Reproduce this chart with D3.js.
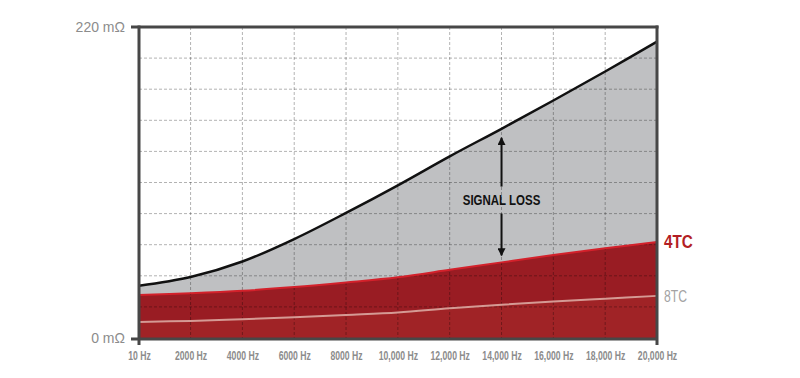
<!DOCTYPE html>
<html>
<script src="https://d3js.org/d3.v7.min.js"></script>
<style>
    body {
        margin: 0;
        background: #fff;
    }

    .xlab text {
        font-family: "Liberation Sans", Arial, sans-serif;
        font-weight: bold;
        font-size: 13.5px;
        fill: #8c8c8c;
    }

    .ylab text {
        font-family: "Liberation Sans", Arial, sans-serif;
        font-size: 14px;
        fill: #8c8c8c;
    }
</style>

<body>
</body>
<script>
    const width = 800,
        height = 378;
    const freqs = [10, 2000, 4000, 6000, 8000, 10000, 12000, 14000, 16000, 18000, 20000];
    const freqLabels = ["10 Hz", "2000 Hz", "4000 Hz", "6000 Hz", "8000 Hz", "10,000 Hz", "12,000 Hz", "14,000 Hz",
        "16,000 Hz", "18,000 Hz", "20,000 Hz"
    ];
    // impedance in milliohms
    const standard = [36.9, 43.1, 54.1, 70, 88.5, 108, 128.5, 148, 168, 188.5, 209.6];
    const fourTC = [30.5, 31.7, 33.4, 36, 39.3, 43, 48.2, 53.5, 58.7, 63.5, 67.9];
    const eightTC = [11.4, 12.1, 13.3, 14.7, 16.3, 18, 21, 23.6, 25.8, 27.8, 29.8];
    const yTicks = [0, 220];
    const yLabels = ["0 mΩ", "220 mΩ"];
    const gridY = [22, 44, 66, 88, 110, 132, 154, 176, 198];
    const arrowAt = 14000;

    const rows = freqs.map((f, i) => ({
        f: f,
        std: standard[i],
        c4: fourTC[i],
        c8: eightTC[i]
    }));

    const svg = d3.select("body").append("svg").attr("width", width).attr("height", height);

    const x = d3.scaleLinear().domain([10, 20000]).range([139, 657]);
    const y = d3.scaleLinear().domain([0, 220]).range([338, 27]);

    const area = key => d3.area()
        .curve(d3.curveCatmullRom)
        .x(d => x(d.f))
        .y0(y(0))
        .y1(d => y(d[key]));
    const line = key => d3.line()
        .curve(d3.curveCatmullRom)
        .x(d => x(d.f))
        .y(d => y(d[key]));

    svg.append("path").attr("d", area("std")(rows)).attr("fill", "#bfc0c2");
    svg.append("path").attr("d", area("c4")(rows)).attr("fill", "#991c23");
    svg.append("path").attr("d", area("c8")(rows)).attr("fill", "#a02326");

    // grid
    svg.append("g")
        .selectAll("line")
        .data(freqs.slice(1, -1))
        .join("line")
        .attr("x1", d => x(d)).attr("x2", d => x(d))
        .attr("y1", y(220)).attr("y2", y(0))
        .attr("stroke", "rgba(0,0,0,0.3)")
        .attr("stroke-dasharray", "3,2");
    svg.append("g")
        .selectAll("line")
        .data(gridY)
        .join("line")
        .attr("x1", x(10)).attr("x2", x(20000))
        .attr("y1", d => y(d)).attr("y2", d => y(d))
        .attr("stroke", "rgba(0,0,0,0.3)")
        .attr("stroke-dasharray", "3,2");

    svg.append("path").attr("d", line("c8")(rows))
        .attr("fill", "none").attr("stroke", "#d59a94").attr("stroke-width", 2);
    svg.append("path").attr("d", line("c4")(rows))
        .attr("fill", "none").attr("stroke", "#d3212b").attr("stroke-width", 2);
    svg.append("path").attr("d", line("std")(rows))
        .attr("fill", "none").attr("stroke", "#111").attr("stroke-width", 2.5);

    // frame
    const frame = svg.append("g").attr("stroke", "#474747").attr("stroke-width", 3);
    frame.append("line").attr("x1", 131).attr("x2", x(20000) + 1.5).attr("y1", y(220)).attr("y2", y(220));
    frame.append("line").attr("x1", x(10)).attr("x2", x(10)).attr("y1", y(220) - 1.5).attr("y2", y(0) + 7);
    frame.append("line").attr("x1", x(20000)).attr("x2", x(20000)).attr("y1", y(220) - 1.5).attr("y2", y(0) + 7);
    frame.append("line").attr("x1", 131).attr("x2", x(20000)).attr("y1", y(0) + 1).attr("y2", y(0) + 1);

    const yAxis = svg.append("g")
        .attr("class", "ylab")
        .attr("transform", `translate(${x(10)},0)`)
        .call(d3.axisLeft(y).tickValues(yTicks).tickSize(0).tickPadding(14)
            .tickFormat((d, i) => yLabels[i]));
    yAxis.select(".domain").remove();

    const xAxis = svg.append("g")
        .attr("class", "xlab")
        .attr("transform", `translate(0,${y(0)})`)
        .call(d3.axisBottom(x).tickValues(freqs).tickSize(0).tickPadding(12)
            .tickFormat((d, i) => freqLabels[i]));
    xAxis.select(".domain").remove();
    xAxis.selectAll("text").attr("transform", "scale(0.64,1)");

    // condensed-looking text: squeeze horizontally around its anchor
    function label(px, py, sx, txt) {
        return svg.append("text")
            .attr("transform", `translate(${px},${py}) scale(${sx},1)`)
            .attr("font-family", "'Liberation Sans', Arial, sans-serif")
            .text(txt);
    }

    const last = rows[rows.length - 1];
    label(x(20000) + 7, y(last.c4) + 6, 0.85, "4TC")
        .attr("font-weight", "bold")
        .attr("font-size", 18)
        .attr("fill", "#b31e24");
    label(x(20000) + 7, y(last.c8) + 6, 0.76, "8TC")
        .attr("font-size", 16)
        .attr("fill", "#a3a3a3");

    // signal loss arrow
    const at = rows.find(d => d.f === arrowAt);
    const ax = x(arrowAt);
    const arrowTop = y(at.std) + 9,
        arrowBottom = y(at.c4) - 7;
    const mid = (y(at.std) + y(at.c4)) / 2;
    svg.append("defs").append("marker")
        .attr("id", "head")
        .attr("viewBox", "0 0 10 10")
        .attr("refX", 9).attr("refY", 5)
        .attr("markerWidth", 4.5).attr("markerHeight", 4)
        .attr("markerUnits", "strokeWidth")
        .attr("orient", "auto")
        .append("path").attr("d", "M0,0L10,5L0,10Z").attr("fill", "#111");
    svg.append("line")
        .attr("x1", ax).attr("x2", ax).attr("y1", mid - 9).attr("y2", arrowTop)
        .attr("stroke", "#111").attr("stroke-width", 2).attr("marker-end", "url(#head)");
    svg.append("line")
        .attr("x1", ax).attr("x2", ax).attr("y1", mid + 18).attr("y2", arrowBottom)
        .attr("stroke", "#111").attr("stroke-width", 2).attr("marker-end", "url(#head)");
    label(ax, mid + 9, 0.82, "SIGNAL LOSS")
        .attr("text-anchor", "middle")
        .attr("font-weight", "bold")
        .attr("font-size", 14)
        .attr("fill", "#111");
</script>

</html>
